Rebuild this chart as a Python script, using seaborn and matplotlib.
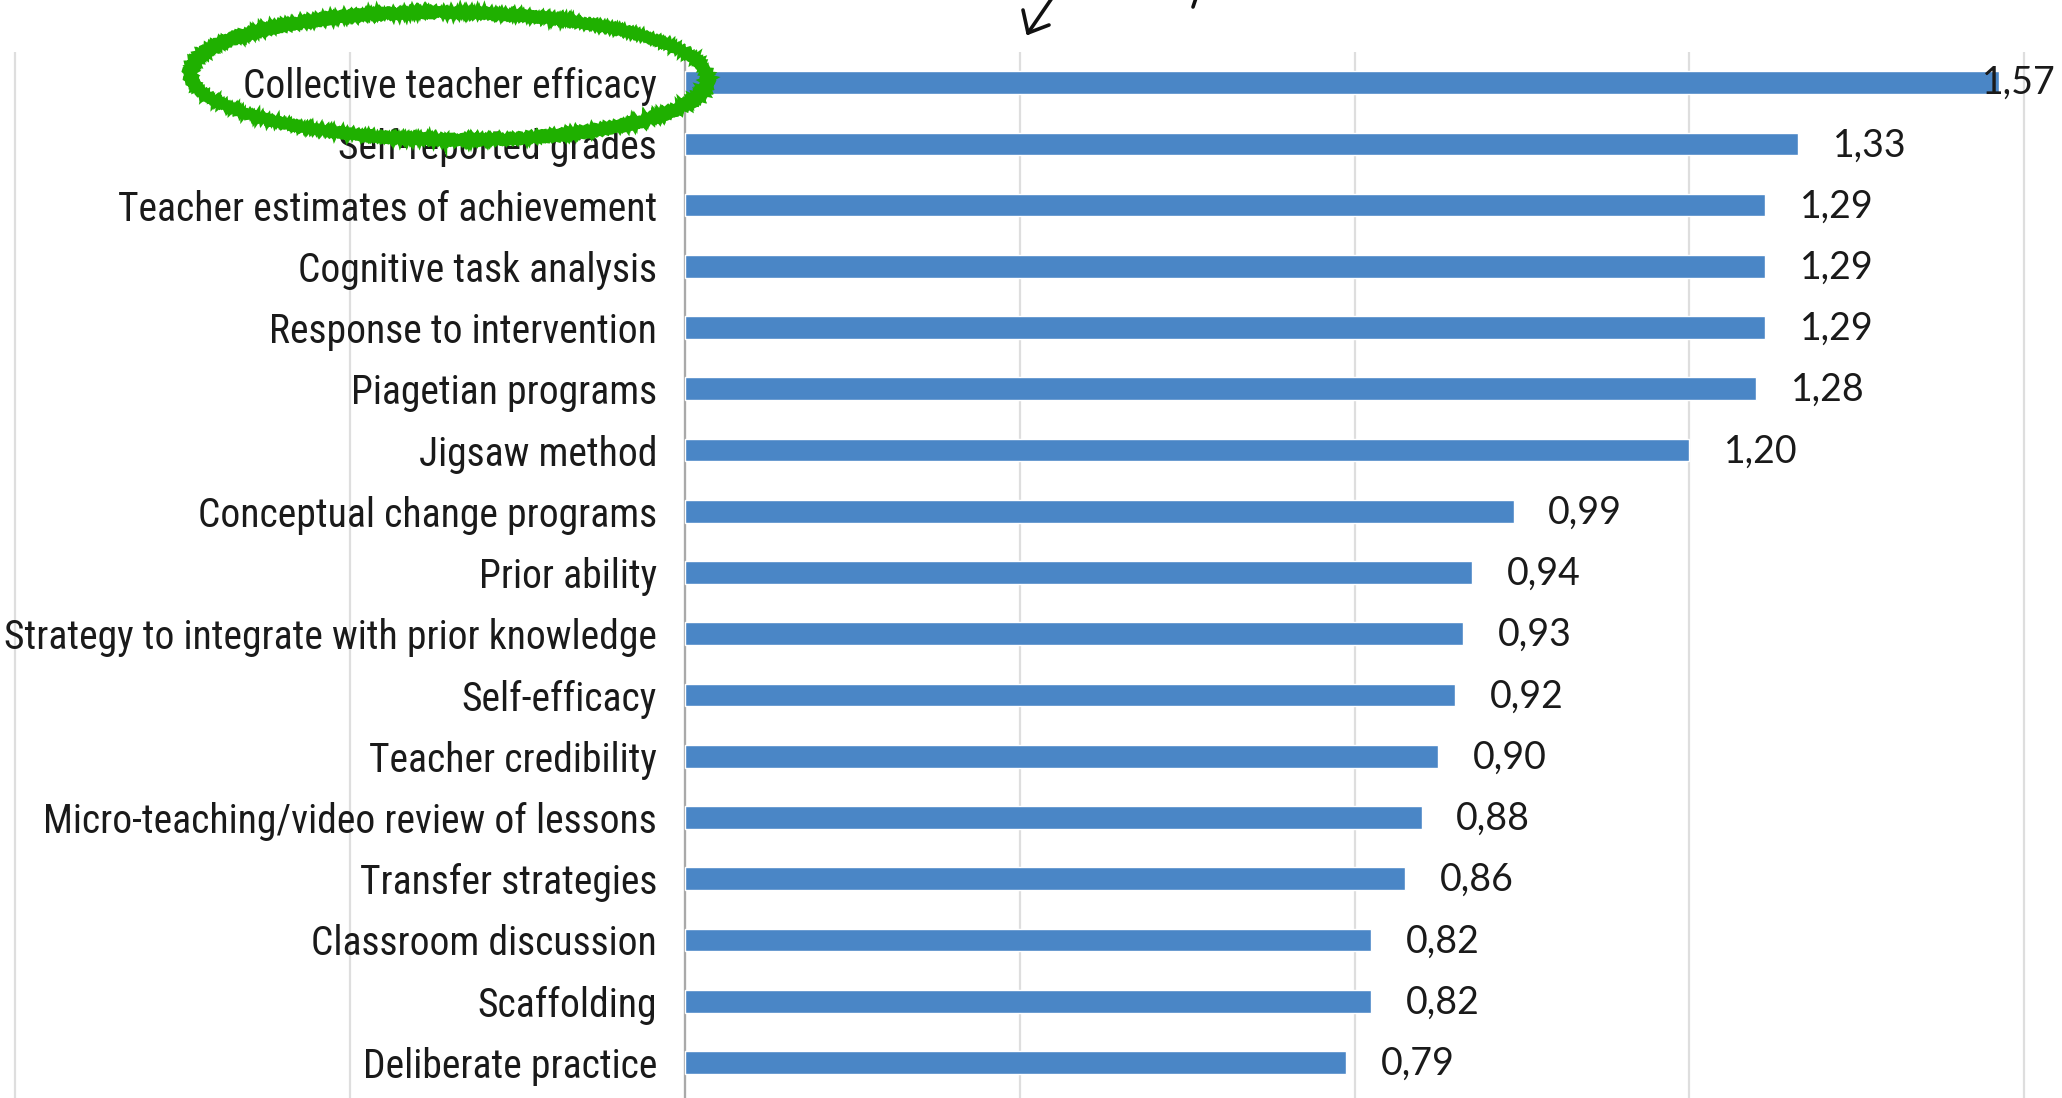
import matplotlib
matplotlib.use("Agg")
import matplotlib.pyplot as plt
from matplotlib.patches import Ellipse
from matplotlib.lines import Line2D
from matplotlib import font_manager
from matplotlib.font_manager import FontProperties
import seaborn as sns
import pandas as pd

# Effect sizes (Hattie) for the top-ranked influences
influences = [
    "Collective teacher efficacy",
    "Self-reported grades",
    "Teacher estimates of achievement",
    "Cognitive task analysis",
    "Response to intervention",
    "Piagetian programs",
    "Jigsaw method",
    "Conceptual change programs",
    "Prior ability",
    "Strategy to integrate with prior knowledge",
    "Self-efficacy",
    "Teacher credibility",
    "Micro-teaching/video review of lessons",
    "Transfer strategies",
    "Classroom discussion",
    "Scaffolding",
    "Deliberate practice",
]
effect_sizes = [1.57, 1.33, 1.29, 1.29, 1.29, 1.28, 1.20, 0.99, 0.94, 0.93,
                0.92, 0.90, 0.88, 0.86, 0.82, 0.82, 0.79]
grid_values = [-0.8, -0.4, 0.0, 0.4, 0.8, 1.2, 1.6]

df = pd.DataFrame({"influence": influences, "effect": effect_sizes})

sns.set_style("white")
installed = {f.name for f in font_manager.fontManager.ttflist}

# prefer a condensed sans for the category labels when one is available
label_props = None
for fam in ["Liberation Sans Narrow", "Arial Narrow", "Roboto Condensed",
            "Open Sans Condensed", "DejaVu Sans"]:
    if fam not in installed:
        continue
    fp = FontProperties(family=fam, stretch="condensed")
    path = font_manager.findfont(fp, fallback_to_default=False)
    if any(k in path.lower() for k in ("narrow", "condensed")):
        label_props = dict(fontfamily=fam, fontstretch="condensed",
                           fontsize=28.5)
        break
if label_props is None:
    label_props = dict(fontfamily=["Liberation Sans", "DejaVu Sans"],
                       fontsize=24)
value_family = [f for f in ["Lato", "Open Sans", "DejaVu Sans"] if f in installed]

W, H, DPI = 2062, 1098, 100
fig = plt.figure(figsize=(W / DPI, H / DPI), dpi=DPI)
fig.patch.set_facecolor("white")
ax = fig.add_axes([0.0, 0.0, 1.0, (H - 52) / H])

bar_color = "#4a86c6"
sns.barplot(data=df, x="effect", y="influence", orient="h", color=bar_color,
            width=0.37, saturation=1, ax=ax, zorder=3)

ax.set_xlim(-0.818, 1.645)
ax.set_ylim(len(influences) - 0.42, -0.39)
ax.set_xlabel("")
ax.set_ylabel("")

# vertical gridlines
ax.set_xticks(grid_values)
ax.grid(axis="x", color="#dedede", linewidth=1.6, zorder=0)
ax.grid(axis="y", visible=False)
ax.tick_params(axis="x", length=0, labelbottom=False)

# category axis drawn at x = 0
for s in ["top", "right", "bottom"]:
    ax.spines[s].set_visible(False)
ax.spines["left"].set_position(("data", 0))
ax.spines["left"].set_color("#a9a9a9")
ax.spines["left"].set_linewidth(1.6)
ax.set_yticks(range(len(influences)))
ax.set_yticklabels(influences, color="#1a1a1a", **label_props)
ax.tick_params(axis="y", which="major", length=0, pad=20)
ax.set_yticks([i + 0.5 for i in range(-1, len(influences))], minor=True)
ax.tick_params(axis="y", which="minor", length=6, width=1.4, color="#a9a9a9",
               direction="out")

# value labels with decimal comma
vmax = max(effect_sizes)
for i, v in enumerate(effect_sizes):
    txt = f"{v:.2f}".replace(".", ",")
    if v == vmax:
        ax.text(1.0 - 6 / W, i, txt, transform=ax.get_yaxis_transform(),
                ha="right", va="center", fontsize=27, fontfamily=value_family,
                color="#1a1a1a", zorder=5)
    else:
        ax.annotate(txt, xy=(v, i), xytext=(25, -1), textcoords="offset points",
                    ha="left", va="center", fontsize=27,
                    fontfamily=value_family, color="#1a1a1a", zorder=5)

# hand-drawn green loop around the top label
def px(x, y):
    return (x / W, 1 - y / H)

for dw, dh, lw, ang in [(0, 0, 5, -1.5), (-8, -6, 4, -1.0), (8, 5, 4, -2.0),
                        (-3, 3, 3, -1.2), (4, -4, 3, -1.8)]:
    e = Ellipse(px(449, 76), (518 + dw) / W, (128 + dh) / H, angle=ang,
                transform=fig.transFigure, fill=False, edgecolor="#1fb000",
                linewidth=lw, zorder=10)
    e.set_sketch_params(scale=1.6, length=4, randomness=3)
    fig.add_artist(e)

# hand-drawn arrow at the top
pen = dict(color="#111111", linewidth=2.6, solid_capstyle="round",
           transform=fig.transFigure)
for (x0, y0), (x1, y1) in [((1052, -2), (1028, 33)),
                           ((1028, 33), (1023, 10)),
                           ((1028, 33), (1049, 25)),
                           ((1196, -2), (1193, 7))]:
    a, b = px(x0, y0), px(x1, y1)
    fig.add_artist(Line2D([a[0], b[0]], [a[1], b[1]], **pen))

fig.savefig("out.png", dpi=DPI, facecolor="white")
